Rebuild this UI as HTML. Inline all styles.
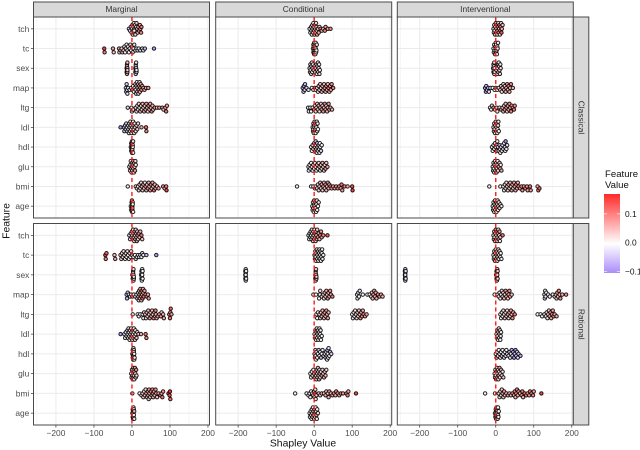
<!DOCTYPE html>
<html lang="en">
<head>
<meta charset="utf-8">
<title>Shapley Value Beeswarm</title>
<style>
html,body{margin:0;padding:0;background:#fff;width:640px;height:450px;overflow:hidden}
svg{display:block}
text{font-family:"Liberation Sans",sans-serif}
</style>
</head>
<body>
<svg id="chart" xmlns="http://www.w3.org/2000/svg" width="640" height="450" viewBox="0 0 640 450">
  <defs>
    <linearGradient id="legend-grad" x1="0" y1="1" x2="0" y2="0">
      <stop offset="0" stop-color="#a98cf8"/>
      <stop offset="0.37" stop-color="#ffffff"/>
      <stop offset="1" stop-color="#ff2a2a"/>
    </linearGradient>
  </defs>
  <g id="layer-grid"></g>
  <g id="layer-points"></g>
  <g id="layer-ref"></g>
  <g id="layer-frame"></g>
  <text x="303" y="446.5" font-size="10.4" text-anchor="middle" fill="#111">Shapley Value</text>
  <text transform="translate(9.5,221) rotate(-90)" font-size="10.4" text-anchor="middle" fill="#111">Feature</text>
  <g>
    <text x="605" y="177" font-size="9.6" fill="#111">Feature</text>
    <text x="605" y="188" font-size="9.6" fill="#111">Value</text>
    <rect x="604" y="194" width="16" height="79" fill="url(#legend-grad)"/>
    <g id="legend-ticks"></g>
  </g>
</svg>
<script>
const features = ['age','bmi','glu','hdl','ldl','ltg','map','sex','tc','tch'];
const xTicks = [-200,-100,0,100,200];
const xMinor = [-250,-150,-50,50,150];
const xDomain = [-259,204];
const legendTicks = [0.1,0,-0.1];

const shapMarginalClassical = {
  tch:[-8,-5,-3,-1,0,1,2,3,4,5,6,7,8,9,10,11,12,14,15,17,19,21,22,24,25,6],
  tc:[-73,-72,-50,-48,-34,-33,-30,-27,-25,-22,-20,-18,-16,-14,-12,-10,-8,-6,-4,-2,0,2,4,6,9,12,15,18,22,27,30,34,58],
  sex:[-14,-14,-13,-13,-13,-13,-12,-12,-12,-12,9,9,10,10,10,10,11,11,12,12],
  map:[-16,-15,-14,-13,-12,-10,-6,-2,1,3,5,7,9,10,11,12,13,14,15,16,17,18,19,20,21,22,23,25,27,30,33,37,43],
  ltg:[-11,-1,0,3,10,12,14,16,18,20,22,24,26,28,30,32,34,36,38,40,42,44,46,48,50,52,54,56,60,66,72,80,83,88,90,92],
  ldl:[-30,-21,-20,-18,-16,-15,-13,-12,-10,-9,-8,-7,-6,-5,-4,-3,-2,-1,0,1,2,3,4,5,6,7,8,10,12,14,16,25,37,38],
  hdl:[-3,-2,-2,-1,-1,0,0,0,1,1,1,2,2,3,3],
  glu:[-7,-5,-4,-3,-2,-1,0,0,1,2,3,4,5,6,7,8,9,10],
  bmi:[-11,10,13,16,18,20,22,24,26,28,30,32,34,36,38,40,42,44,46,48,50,52,54,56,58,60,62,66,70,82,86,90,91],
  age:[-3,-2,-1,-1,0,0,0,1,1,1,2,2,3]
};
const featMarginalClassical = {
  tch:[-3,-2,-3,-1,0,0,1,0,1,2,1,3,2,3,4,3,5,3,6,5,8,7,9,10,11,2],
  tc:[15,10,7,5,7,4,5,3,4,2,3,1,2,0,2,1,0,1,-1,0,0,-1,0,-2,-1,-1,-2,-1,-3,-2,-1,-6,-9],
  sex:[5,5,5,5,5,5,5,5,5,5,-2,-2,-2,-2,-2,-2,-2,-2,-2,-2],
  map:[-4,-3,-4,-3,-2,-2,-1,0,0,0,1,1,2,1,2,3,1,4,3,5,4,6,7,3,5,8,6,10,7,5,6,8,9],
  ltg:[-3,0,0,1,2,1,3,2,4,1,5,3,2,6,4,7,3,5,8,6,2,9,4,7,5,10,6,3,8,5,9,7,4,6,11,8],
  ldl:[-9,-7,-6,-3,-2,-4,-1,-2,-3,0,-1,0,-2,1,0,-1,0,1,0,2,1,0,3,1,2,0,4,1,2,5,3,6,12,10],
  hdl:[0,1,-1,0,1,0,-1,2,1,0,-1,0,1,0,2],
  glu:[0,1,-1,0,2,1,0,3,1,0,5,1,2,6,2,8,3,1],
  bmi:[-1,1,2,1,3,5,2,4,6,3,7,4,2,8,5,3,9,6,4,8,10,5,7,4,11,6,8,5,7,9,6,10,15],
  age:[1,0,3,-1,2,0,4,1,0,5,2,0,1]
};

const shapMarginalRational = {
  tch:[-7,-5,-3,-1,0,1,2,3,4,5,6,7,8,9,10,11,12,13,14,15,16,18,20,22,25,27],
  tc:[-70,-69,-67,-46,-44,-30,-28,-26,-24,-22,-20,-18,-16,-14,-12,-10,-8,-6,-4,-2,0,4,8,10,13,16,19,22,25,27,30,38,64],
  sex:[1,2,3,3,3,4,4,4,5,5,24,25,25,26,26,26,27,27,28,28],
  map:[-14,-13,-11,-8,-5,-2,1,5,9,12,14,16,17,18,19,20,21,22,23,24,25,26,27,28,29,30,31,33,36,39,42,44],
  ltg:[2,15,18,22,28,30,32,35,37,39,41,43,45,47,49,51,53,55,57,59,61,62,63,65,68,72,76,78,82,84,98,100,101,102,104],
  ldl:[-30,-20,-18,-16,-14,-12,-11,-10,-9,-8,-7,-6,-5,-4,-3,-2,-1,0,1,2,3,4,5,6,7,8,9,10,12,14,17,24,36,38],
  hdl:[1,2,2,3,3,3,4,4,4,5,5,5,6,6,7],
  glu:[-2,-1,0,1,2,3,3,4,4,5,5,6,7,8,9,10,11,12],
  bmi:[1,20,25,28,30,32,34,36,38,40,42,43,44,45,46,48,50,52,54,55,56,58,60,62,64,66,70,75,78,80,82,96,99,100,101],
  age:[1,2,2,3,3,3,4,4,4,5,5,6,6]
};
const featMarginalRational = {
  tch:[-3,-2,-1,-1,0,1,0,2,1,3,1,4,2,5,3,6,2,7,4,8,3,9,6,5,11,4],
  tc:[15,10,12,5,7,4,3,2,4,1,3,1,2,0,2,0,1,-1,0,1,0,-1,0,-2,-1,-1,-2,-2,-1,-3,-2,-6,-9],
  sex:[-2,-2,-2,-2,-2,-2,-2,-2,-2,-2,0,0,0,0,0,0,0,0,0,0],
  map:[-4,-6,-3,-2,-2,-1,0,1,0,2,3,2,4,3,5,6,3,7,5,9,4,8,6,10,7,5,11,8,6,9,7,8],
  ltg:[-1,0,1,0,2,1,3,4,2,5,3,6,4,7,2,8,5,3,9,6,4,10,7,5,8,6,9,3,6,7,10,11,9,12,8],
  ldl:[-9,-3,-2,-2,-1,-3,0,-1,-2,0,1,0,-1,2,0,1,-1,0,2,1,0,3,1,0,2,4,1,2,5,3,6,7,11,10],
  hdl:[0,1,0,-1,1,0,2,0,-1,1,0,2,0,1,0],
  glu:[0,1,0,3,1,0,5,2,7,1,3,0,2,8,1,4,10,3],
  bmi:[0,1,2,3,4,2,5,3,6,4,7,5,3,8,6,4,9,5,7,10,6,8,4,9,7,5,8,10,6,11,9,16,14,17,12],
  age:[2,0,4,1,0,5,2,0,3,1,0,6,2]
};

const shapConditionalClassical = {
  tch:[-12,-10,-8,-7,-6,-5,-4,-3,-2,-1,0,1,2,3,4,5,6,7,8,10,12,14,17,20,24,28,30,36,43],
  tc:[-3,-2,-2,-1,-1,0,0,1,1,2,2,3,3,4,4,5,6,7],
  sex:[-12,-11,-10,-9,-8,-7,-6,-5,-4,-3,-1,1,3,5,6,7,8,9,10,11,12,13,14,15],
  map:[-30,-28,-27,-25,-24,-20,-15,-6,-2,2,5,8,10,12,14,16,18,20,22,24,26,28,30,32,34,36,38,40,42,44,46,50],
  ltg:[-16,-14,-10,-8,-4,0,2,4,6,8,10,12,14,16,18,20,22,24,26,28,30,32,34,36,38,40,43,47],
  ldl:[-4,-3,-2,-2,-1,0,1,1,2,3,3,4,5,6,7,8,9,10],
  hdl:[-8,-6,-4,-2,0,2,3,4,5,6,7,8,9,10,12,13,14,15,16,18,20],
  glu:[-15,-14,-12,-10,-8,-6,-4,-2,0,2,4,6,8,10,12,14,16,18,20,22,24,26,28,30,32,35],
  bmi:[-45,-8,-2,2,5,8,10,12,14,16,18,20,22,24,26,28,30,32,34,36,38,40,43,46,50,54,58,62,66,70,72,74,80,88,100,101],
  age:[-5,-4,-3,-2,-1,0,0,1,2,3,4,5,6,7,8,10,12]
};
const featConditionalClassical = {
  tch:[-1,0,-2,1,0,2,-1,3,0,1,4,2,0,5,1,3,6,2,8,4,7,3,9,6,5,10,8,7,9],
  tc:[0,1,-1,0,6,1,0,2,-1,0,3,1,0,2,1,0,1,2],
  sex:[3,-1,3,-1,3,-1,3,-1,3,-1,3,-1,3,-1,3,-1,3,-1,3,-1,3,-1,3,-1],
  map:[-6,-5,-8,-4,-6,-3,-2,-1,0,1,0,2,3,4,2,5,3,6,4,7,5,8,6,9,7,5,10,6,8,7,9,11],
  ltg:[-2,-1,0,0,1,2,1,3,2,4,3,5,2,6,4,7,3,8,5,9,6,4,7,5,8,6,7,6],
  ldl:[1,0,2,-1,0,1,5,0,2,1,-1,0,3,1,0,2,1,0],
  hdl:[1,0,-3,2,-4,1,0,-5,1,-2,0,-6,1,0,-3,2,-1,0,1,-4,0],
  glu:[-1,0,1,0,-1,2,0,3,1,4,2,0,5,1,3,6,2,4,1,7,3,5,2,8,4,6],
  bmi:[-1,-1,0,1,2,3,2,4,3,5,4,6,3,7,5,4,8,6,5,9,7,6,10,8,7,9,8,10,9,7,11,8,10,6,14,15],
  age:[0,1,0,2,-1,0,3,1,0,5,2,1,0,3,1,0,2]
};

const shapConditionalRational = {
  tch:[-15,-13,-12,-10,-9,-8,-7,-6,-5,-4,-3,-2,-1,0,1,2,3,4,5,6,7,8,10,12,14,16,18,20,24,35],
  tc:[1,2,3,4,5,6,7,8,9,10,11,12,13,14,15,16,17,18,19,20,21,22,24],
  sex:[-181,-181,-181,-180,-180,-180,-180,-180,-179,-179,3,3,4,4,4,4,5,5,6,6],
  map:[-2,5,15,13,16,20,24,26,28,30,32,34,36,38,40,42,44,48,113,114,116,118,120,128,140,146,150,152,154,156,158,160,162,164,168,172,176,180],
  ltg:[6,8,10,14,16,18,20,22,24,26,28,30,32,34,36,38,100,102,104,106,108,110,112,114,116,118,120,122,124,126,128,130,134,138],
  ldl:[1,2,3,4,5,6,7,8,9,10,11,12,13,14,15,16,17,18,20],
  hdl:[1,2,3,4,5,6,8,10,12,14,16,18,20,22,25,28,30,32,33,34,35,36,37,38,40,42,45],
  glu:[-10,-8,-6,-4,-2,0,2,4,5,6,7,8,9,10,11,12,13,14,15,16,18,20,22,24,26,28,30,32],
  bmi:[-50,-20,-15,-12,-10,-8,-5,-2,0,1,2,3,4,6,12,16,20,26,30,32,36,38,40,44,48,52,56,58,62,66,70,76,85,88,90,110],
  age:[-12,-11,-9,-8,-7,-6,-5,-4,-3,-2,-1,0,1,2,3,4,5,6,7,8,10]
};
const featConditionalRational = {
  tch:[-1,0,-2,1,0,2,-1,3,0,1,4,2,0,5,1,3,6,2,8,4,7,3,9,6,5,10,8,7,9,13],
  tc:[0,1,-1,0,1,0,2,-1,0,3,1,0,2,1,0,1,2,0,-1,1,0,2,1],
  sex:[-2,-2,-2,-2,-2,-2,-2,-2,-2,-2,4,4,4,4,4,4,4,4,4,4],
  map:[0,-1,1,0,2,3,4,2,6,3,7,5,8,4,6,9,7,10,-1,0,-4,1,-2,0,0,1,3,4,5,6,7,5,8,6,9,8,7,5],
  ltg:[1,0,2,3,4,2,5,6,8,5,7,4,9,6,8,5,0,-1,1,2,1,3,2,4,3,6,5,8,6,9,7,10,8,7],
  ldl:[1,0,-3,2,0,-8,1,0,2,-1,1,0,3,-1,0,2,1,0,1],
  hdl:[1,0,-2,1,0,-3,1,0,-5,-1,0,-7,1,-2,0,-4,1,0,-3,-1,-6,0,1,-2,0,-5,-4],
  glu:[0,1,0,2,-1,0,1,3,0,2,1,4,0,5,2,1,6,3,7,2,1,8,3,2,6,4,5,3],
  bmi:[0,1,0,-1,1,0,2,1,3,2,14,3,2,4,5,3,6,4,7,5,3,6,8,5,7,9,6,10,8,7,11,9,8,10,7,15],
  age:[0,1,0,2,-1,0,3,1,0,5,2,1,0,3,1,0,2,7,1,0,2]
};

const shapInterventionalClassical = {
  tch:[-6,-5,-4,-3,-2,-1,0,1,2,3,4,5,6,7,8,9,10,11,12,13,14,15,16,18],
  tc:[-6,-5,-4,-3,-2,-1,0,0,1,1,2,3,4,5,6],
  sex:[-7,-6,-6,-5,-5,-4,-4,-3,-3,2,3,4,5,6,7,8,9,10,11,12,13],
  map:[-28,-26,-25,-23,-20,-18,-14,-8,-3,0,4,8,12,14,16,18,20,22,24,26,28,30,32,34,36,38,40,45],
  ltg:[-15,-12,-10,-6,-2,2,4,10,14,18,20,22,24,26,28,30,32,34,36,38,40,42,45,48,50],
  ldl:[-6,-5,-4,-3,-2,-1,0,1,2,3,4,5,6,7,8],
  hdl:[-10,-8,-6,-4,-2,0,2,3,4,6,8,10,11,12,14,16,18,20,22,24,25,26,28,30],
  glu:[-8,-7,-6,-5,-4,-3,-2,-1,0,1,2,3,4,5,6,8,10,12,13,15],
  bmi:[-17,12,20,22,24,26,28,30,32,34,36,38,40,42,44,46,48,50,52,54,56,58,60,64,68,70,74,78,82,84,90,92,110,112,115],
  age:[-8,-7,-6,-5,-4,-3,-2,-1,0,1,2,3,4,5,6,7,8,10,12,15]
};
const featInterventionalClassical = {
  tch:[-1,0,2,1,4,0,8,1,3,10,2,5,12,1,6,3,9,2,11,7,4,14,6,5],
  tc:[0,1,-1,0,5,1,0,-2,2,0,6,1,0,2,1],
  sex:[3,-1,3,-1,3,-1,3,-1,3,-1,3,-1,3,-5,3,-1,3,-1,3,-1,3],
  map:[-7,-9,-6,-5,-7,-3,-2,-1,0,1,0,2,3,4,2,5,3,6,4,7,5,8,6,9,7,5,10,6],
  ltg:[0,-1,4,8,3,5,1,2,9,3,5,4,7,6,8,3,7,5,9,6,10,7,8,11,9],
  ldl:[1,0,2,-1,0,1,5,0,2,1,-1,0,3,1,0],
  hdl:[1,0,-3,2,-4,1,0,-5,1,-2,0,-6,1,0,-3,2,-1,0,1,-4,0,-10,1,-2],
  glu:[-1,0,1,0,-1,2,0,3,1,4,2,0,5,1,3,6,2,4,1,7],
  bmi:[-1,0,0,1,2,3,2,4,3,5,4,6,3,7,5,4,8,6,5,9,7,6,10,8,7,9,8,10,9,7,11,8,6,10,13],
  age:[0,1,0,2,-1,0,3,1,0,5,2,1,0,3,1,0,2,4,1,2]
};

const shapInterventionalRational = {
  tch:[-6,-5,-4,-3,-2,-1,0,1,2,3,4,5,6,7,8,9,10,11,12,18],
  tc:[-6,-5,-4,-3,-2,-1,0,1,2,3,4,5,6,7,8,9,10,12,13,15],
  sex:[-239,-239,-239,-238,-238,-238,-238,-238,-237,-237,1,2,2,3,3,3,4,4,5,5],
  map:[-3,5,8,10,12,14,16,18,20,22,24,26,28,30,32,34,36,38,42,128,129,130,131,133,138,142,150,155,158,160,162,164,166,168,170,175,185],
  ltg:[12,14,16,18,20,22,24,26,28,30,32,34,36,38,40,42,44,46,50,110,118,122,128,132,134,136,138,140,142,144,146,148,150,152,155,160],
  ldl:[2,3,4,5,6,7,8,9,10,11,12,13,14],
  hdl:[0,2,4,6,8,10,12,14,16,18,20,22,24,26,28,30,34,36,38,40,42,44,46,48,50,52,54,56,58,60,65],
  glu:[-3,-2,-1,0,1,2,3,4,5,6,7,8,9,10,11,12,14,16,18,20],
  bmi:[-28,-2,8,10,12,14,16,18,20,22,24,28,32,36,40,44,48,50,52,54,56,58,60,64,68,70,72,76,80,84,88,90,94,98,100,120],
  age:[-2,-1,0,0,1,1,2,2,3,3,4,4,5,5,6,6,7,8]
};
const featInterventionalRational = {
  tch:[0,1,3,0,5,2,9,1,0,12,3,1,7,0,5,2,8,1,4,11],
  tc:[0,1,-1,0,6,1,0,2,-1,0,3,1,0,2,1,0,1,-2,0,1],
  sex:[-3,-3,-3,-3,-3,-3,-3,-3,-3,-3,4,4,4,4,4,4,4,4,4,4],
  map:[0,-1,0,1,2,1,3,4,2,6,3,7,5,8,4,6,9,7,5,-2,-1,0,-2,0,-1,0,1,2,6,3,7,4,10,5,8,6,9],
  ltg:[1,0,2,1,3,2,4,1,5,3,7,2,6,4,8,5,9,6,11,0,0,1,2,1,3,2,4,3,5,8,6,10,7,9,8,6],
  ldl:[1,0,-6,2,0,1,-1,0,3,1,0,-2,1],
  hdl:[1,0,-1,1,0,-2,1,0,-5,-1,0,-3,1,-2,0,-4,1,-7,-3,-1,-6,-2,-8,-10,-5,-9,-4,-6,-3,-5,-7],
  glu:[0,1,0,2,5,0,1,9,0,2,1,4,0,7,2,1,6,3,2,4],
  bmi:[0,0,1,2,3,2,4,7,3,9,5,4,8,6,5,9,7,10,6,8,10,7,9,5,8,11,6,10,9,7,8,11,9,10,7,15],
  age:[0,2,1,0,3,1,5,0,2,1,6,0,3,1,0,2,1,0]
};

const methods = ['Marginal','Conditional','Interventional'];
const scenarios = ['Classical','Rational'];
const panelShap = [
  [shapMarginalClassical, shapConditionalClassical, shapInterventionalClassical],
  [shapMarginalRational, shapConditionalRational, shapInterventionalRational]
];
const panelFeat = [
  [featMarginalClassical, featConditionalClassical, featInterventionalClassical],
  [featMarginalRational, featConditionalRational, featInterventionalRational]
];

const NS = 'http://www.w3.org/2000/svg';
const panelLeft = [33.5, 215.7, 397.3];
const panelWidth = 176;
const panelTop = [17, 223.5];
const panelHeight = [201, 201.5];

function xScale(col, v) {
  return panelLeft[col] + (v - xDomain[0]) / (xDomain[1] - xDomain[0]) * panelWidth;
}
function yScale(row, name) {
  const i = features.indexOf(name);
  const step = panelHeight[row] / (features.length - 1 + 1.2);
  return panelTop[row] + panelHeight[row] - (0.6 + i) * step;
}
function colorScale(v) {
  const lerp = (a, b, t) => Math.round(a + (b - a) * t);
  if (v >= 0) {
    const t = Math.min(1, v / 0.17);
    return 'rgb(255,' + lerp(255, 42, t) + ',' + lerp(255, 42, t) + ')';
  }
  const t = Math.min(1, -v / 0.103);
  return 'rgb(' + lerp(255, 169, t) + ',' + lerp(255, 140, t) + ',' + lerp(255, 248, t) + ')';
}
function swarmOffsets(col, values) {
  const d = 1.9, cap = 5.7;
  const slots = [0];
  for (let k = d; k <= cap; k += d) { slots.push(k, -k); }
  const placed = [];
  return values.map(function (v) {
    const px = xScale(col, v);
    let best = 0, bestScore = -1;
    slots.forEach(function (s) {
      let clear = 99;
      placed.forEach(function (p) {
        clear = Math.min(clear, Math.hypot(p[0] - px, p[1] - s));
      });
      const score = Math.min(clear, 2.1) - Math.abs(s) * 0.01;
      if (score > bestScore) { bestScore = score; best = s; }
    });
    placed.push([px, best]);
    return best;
  });
}
function mk(parent, tag, attrs, txt) {
  const el = document.createElementNS(NS, tag);
  Object.keys(attrs).forEach(function (k) { el.setAttribute(k, attrs[k]); });
  if (txt !== undefined) { el.textContent = txt; }
  parent.appendChild(el);
  return el;
}

const gridLayer = document.getElementById('layer-grid');
const pointLayer = document.getElementById('layer-points');
const refLayer = document.getElementById('layer-ref');
const frameLayer = document.getElementById('layer-frame');
const legendTickLayer = document.getElementById('legend-ticks');

scenarios.forEach(function (scenario, row) {
  const top = panelTop[row], h = panelHeight[row];
  methods.forEach(function (method, col) {
    const left = panelLeft[col];

    xMinor.forEach(function (t) {
      const el = mk(gridLayer, 'line', {x1: xScale(col, t), x2: xScale(col, t), y1: top, y2: top + h, stroke: '#f0f0f0', 'stroke-width': 0.6});
      
      
    });
    xTicks.forEach(function (t) {
      const el = mk(gridLayer, 'line', {x1: xScale(col, t), x2: xScale(col, t), y1: top, y2: top + h, stroke: '#ebebeb', 'stroke-width': 1});
      
      
    });
    features.forEach(function (f) {
      const el = mk(gridLayer, 'line', {x1: left, x2: left + panelWidth, y1: yScale(row, f), y2: yScale(row, f), stroke: '#ebebeb', 'stroke-width': 1});
      
      
    });

    features.forEach(function (f) {
      const vals = panelShap[row][col][f];
      const feats = panelFeat[row][col][f];
      const offs = swarmOffsets(col, vals);
      vals.forEach(function (v, i) {
        const fv = (feats[i] === undefined ? 0 : feats[i]) / 100;
        const c = mk(pointLayer, 'circle', {cx: xScale(col, v), cy: yScale(row, f) + offs[i], r: 1.7, fill: colorScale(fv), stroke: '#000', 'stroke-width': 1, 'stroke-opacity': 0.85});
        
        
      });
    });

    const ref = mk(refLayer, 'line', {x1: xScale(col, 0), x2: xScale(col, 0), y1: top, y2: top + h, stroke: '#ff1a1a', 'stroke-width': 1.4, 'stroke-dasharray': '4 3'});
    
    

    const border = mk(frameLayer, 'rect', {x: left, y: top, width: panelWidth, height: h, fill: 'none', stroke: '#4a4a4a', 'stroke-width': 1});
    
    

    if (row === 0) {
      const strip = mk(frameLayer, 'rect', {x: left, y: 2, width: panelWidth, height: 15, fill: '#d9d9d9', stroke: '#4a4a4a', 'stroke-width': 1});
      
      
      const st = mk(frameLayer, 'text', {x: left + panelWidth / 2, y: 12.2, 'font-size': 8.4, 'text-anchor': 'middle', fill: '#333'}, method);
      
      
    }

    if (row === 1) {
      xTicks.forEach(function (t) {
        const tk = mk(frameLayer, 'line', {x1: xScale(col, t), x2: xScale(col, t), y1: top + h, y2: top + h + 2.6, stroke: '#333', 'stroke-width': 0.7});
        
        
        const lb = mk(frameLayer, 'text', {x: xScale(col, t), y: top + h + 10.8, 'font-size': 8.4, 'text-anchor': 'middle', fill: '#4d4d4d'}, String(t).replace('-', '\u2212'));
        
        
      });
    }

    if (col === 0) {
      features.forEach(function (f) {
        const tk = mk(frameLayer, 'line', {x1: left - 2.6, x2: left, y1: yScale(row, f), y2: yScale(row, f), stroke: '#333', 'stroke-width': 0.7});
        
        
        const lb = mk(frameLayer, 'text', {x: left - 4.2, y: yScale(row, f) + 3, 'font-size': 8.4, 'text-anchor': 'end', fill: '#4d4d4d'}, f);
        
        
      });
    }
  });

  const rightEdge = panelLeft[2] + panelWidth;
  const rs = mk(frameLayer, 'rect', {x: rightEdge, y: top, width: 15.5, height: h, fill: '#d9d9d9', stroke: '#4a4a4a', 'stroke-width': 1});
  
  
  const cx = rightEdge + 5, cy = top + h / 2;
  const rt = mk(frameLayer, 'text', {transform: 'translate(' + cx + ',' + cy + ') rotate(90)', 'font-size': 8.4, 'text-anchor': 'middle', fill: '#333'}, scenario);
  
  
});

function legendY(v) {
  return 242.6 - v * 287;
}
legendTicks.forEach(function (t) {
  const y = legendY(t);
  const a = mk(legendTickLayer, 'line', {x1: 604, x2: 607.2, y1: y, y2: y, stroke: '#fff', 'stroke-width': 0.6});
  
  
  const b = mk(legendTickLayer, 'line', {x1: 616.8, x2: 620, y1: y, y2: y, stroke: '#fff', 'stroke-width': 0.6});
  
  
  const lb = mk(legendTickLayer, 'text', {x: 625, y: y + 3, 'font-size': 8.4, 'text-anchor': 'start', fill: '#111'}, t.toFixed(1).replace('-', '\u2212'));
  
  
});
</script>
</body>
</html>
